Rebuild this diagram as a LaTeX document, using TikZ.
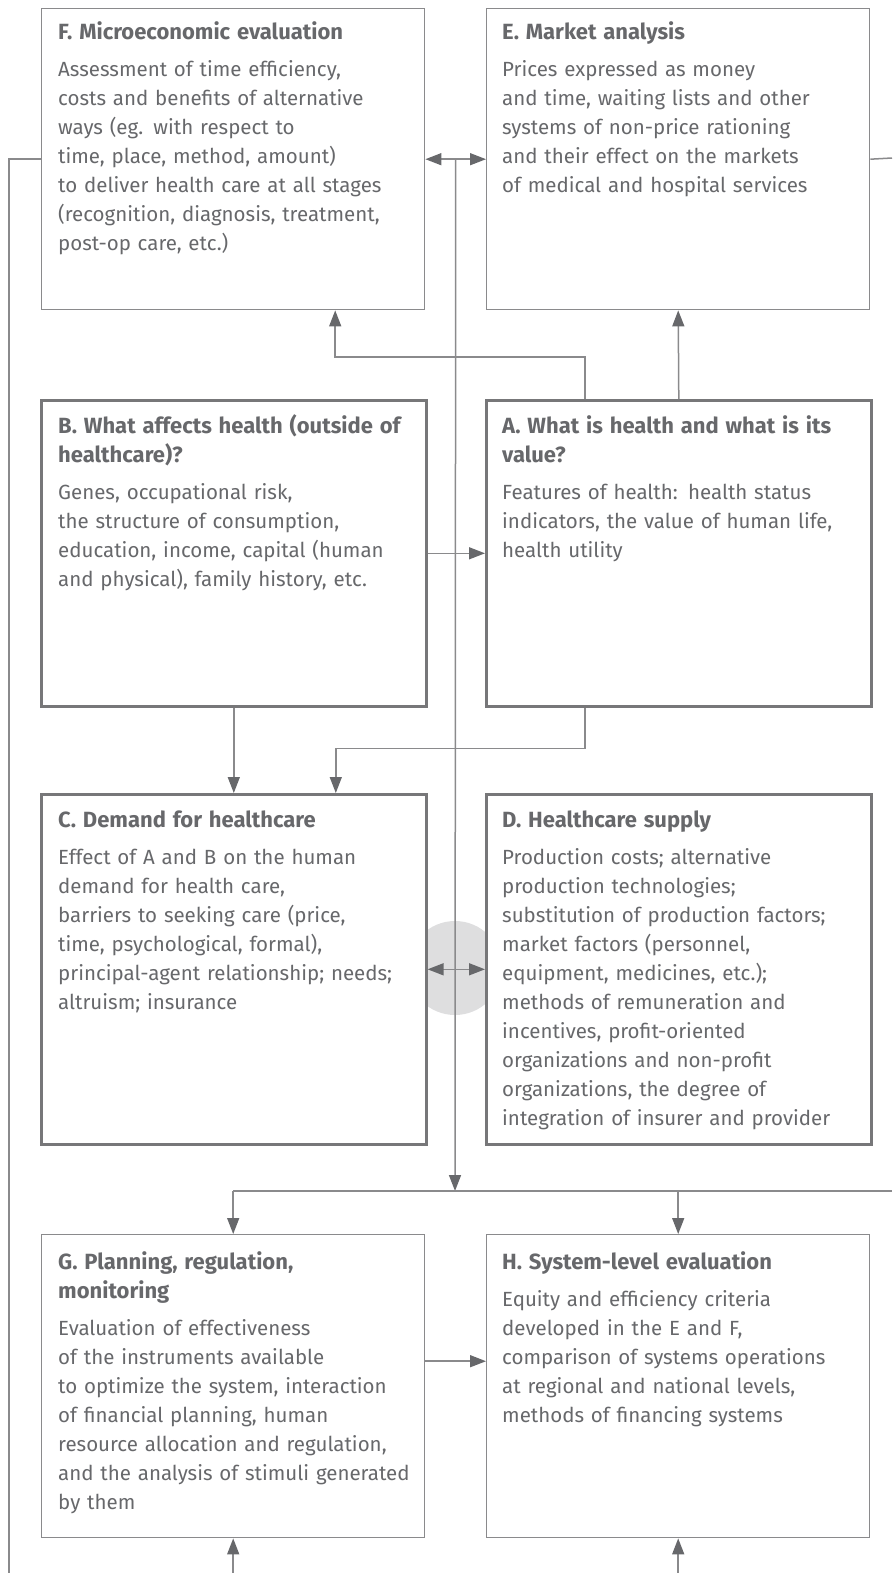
\documentclass[tikz,border=0pt]{standalone}
\usepackage{fontspec}
\setmainfont{Fira Sans}
\usepackage{tikz}
\usepackage{xcolor}
\usetikzlibrary{arrows.meta}
\usetikzlibrary{calc}

\definecolor{inkgray}{HTML}{67686B}
\definecolor{linegray}{HTML}{8A8A8C}
\definecolor{framegray}{HTML}{777779}
\definecolor{spotgray}{HTML}{DEDEDF}

\newcommand{\boxhead}[1]{{\fontsize{22}{29}\selectfont\bfseries #1}}

\tikzset{
	thinbox/.style={draw=linegray, line width=1.4pt, fill=white, anchor=north west, inner sep=0pt},
	thickbox/.style={draw=framegray, line width=2.6pt, fill=white, anchor=north west, inner sep=0pt},
	boxtext/.style={anchor=base west, inner sep=0pt, text=inkgray, text width=380pt, align=left, font=\fontsize{20.5}{29}\selectfont},
	link/.style={draw=linegray, line width=1.5pt},
	tip/.tip={Triangle[length=16pt, width=12pt, color=inkgray]},
}

\begin{document}
\begin{tikzpicture}[x=1pt, y=-1pt]
				\useasboundingbox (0,0) rectangle (892,1573);
				\node[circle, fill=spotgray, minimum size=94pt, inner sep=0pt] (spot) at (455,968) {};
				\node[thinbox, minimum width=383pt, minimum height=301pt] (F) at (41,8) {};
				\node[thinbox, minimum width=383pt, minimum height=301pt] (E) at (486,8) {};
				\node[thickbox, minimum width=385pt, minimum height=306pt] (B) at (40,399) {};
				\node[thickbox, minimum width=385pt, minimum height=306pt] (A) at (485,399) {};
				\node[thickbox, minimum width=385pt, minimum height=350pt] (C) at (40,793) {};
				\node[thickbox, minimum width=385pt, minimum height=350pt] (D) at (485,793) {};
				\node[thinbox, minimum width=383pt, minimum height=303pt] (G) at (41,1234) {};
				\node[thinbox, minimum width=383pt, minimum height=303pt] (H) at (486,1234) {};
				\node[boxtext] (Ftext) at (58,40) {\boxhead{F. Microeconomic evaluation}\\[8pt]
					Assessment of time efficiency,\\
					costs and benefits of alternative\\
					ways (eg. with respect to\\
					time, place, method, amount)\\
					to deliver health care at all stages\\
					(recognition, diagnosis, treatment,\\
					post-op care, etc.)};
				\node[boxtext] (Etext) at (502,40) {\boxhead{E. Market analysis}\\[8pt]
					Prices expressed as money\\
					and time, waiting lists and other\\
					systems of non-price rationing\\
					and their effect on the markets\\
					of medical and hospital services};
				\node[boxtext] (Btext) at (58,433) {\boxhead{B. What affects health (outside of}\\
					\boxhead{healthcare)?}\\[8pt]
					Genes, occupational risk,\\
					the structure of consumption,\\
					education, income, capital (human\\
					and physical), family history, etc.};
				\node[boxtext] (Atext) at (502,433) {\boxhead{A. What is health and what is its}\\
					\boxhead{value?}\\[8pt]
					Features of health: health status\\
					indicators, the value of human life,\\
					health utility};
				\node[boxtext] (Ctext) at (58,827) {\boxhead{C. Demand for healthcare}\\[8pt]
					Effect of A and B on the human\\
					demand for health care,\\
					barriers to seeking care (price,\\
					time, psychological, formal),\\
					principal-agent relationship; needs;\\
					altruism; insurance};
				\node[boxtext] (Dtext) at (502,827) {\boxhead{D. Healthcare supply}\\[8pt]
					Production costs; alternative\\
					production technologies;\\
					substitution of production factors;\\
					market factors (personnel,\\
					equipment, medicines, etc.);\\
					methods of remuneration and\\
					incentives, profit-oriented\\
					organizations and non-profit\\
					organizations, the degree of\\
					integration of insurer and provider};
				\node[boxtext] (Gtext) at (58,1269) {\boxhead{G. Planning, regulation,}\\
					\boxhead{monitoring}\\[8pt]
					Evaluation of effectiveness\\
					of the instruments available\\
					to optimize the system, interaction\\
					of financial planning, human\\
					resource allocation and regulation,\\
					and the analysis of stimuli generated\\
					by them};
				\node[boxtext] (Htext) at (502,1269) {\boxhead{H. System-level evaluation}\\[8pt]
					Equity and efficiency criteria\\
					developed in the E and F,\\
					comparison of systems operations\\
					at regional and national levels,\\
					methods of financing systems};
				\coordinate (hub) at ($(F.east)!0.5!(E.west)$);
				\coordinate (split) at (455,1191);
				\coordinate (rimtop) at (892,158);
				\coordinate (rimsplit) at (892,1191);
				\coordinate (leftfoot) at (9,1573);
				\coordinate (floor) at (0,1573);
				\draw[link, tip-tip] (F.east) -- (E.west);
				\draw[link, -tip] (hub) -- (split);
				\draw[link] (F.west) -| (leftfoot);
				\draw[link] (E.east) -- (rimtop);
				\draw[link, -tip] ([xshift=-94pt]A.north) -- ++(0,-42) -| ([xshift=102pt]F.south);
				\draw[link, -tip] (A.north) -- (E.south);
				\draw[link, -tip] (B.east) -- (A.west);
				\draw[link, -tip] (B.south) -- (C.north);
				\draw[link, -tip] ([xshift=-94pt]A.south) -- ++(0,41) -| ([xshift=102pt]C.north);
				\draw[link, tip-tip] (C.east) -- (D.west);
				\draw[link] (G.north |- split) -- (rimsplit);
				\draw[link, -tip] (G.north |- split) -- (G.north);
				\draw[link, -tip] (H.north |- split) -- (H.north);
				\draw[link, -tip] ([yshift=25pt]G.east) -- ([yshift=25pt]H.west);
				\draw[link, -tip] (G.south |- floor) -- (G.south);
				\draw[link, -tip] (H.south |- floor) -- (H.south);
			\end{tikzpicture}
\end{document}
